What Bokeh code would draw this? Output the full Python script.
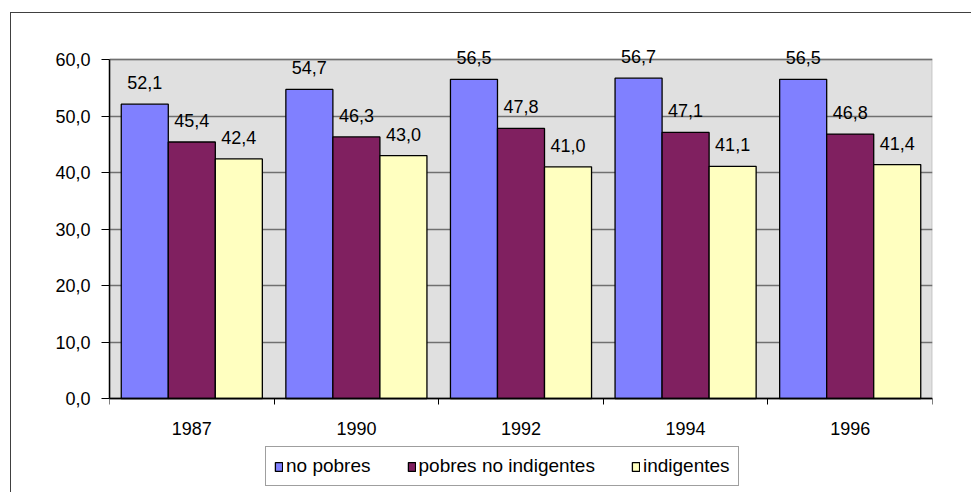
from bokeh.plotting import figure
from bokeh.models import (ColumnDataSource, Range1d, FixedTicker, LabelSet,
                          Legend, LegendItem, BoxAnnotation)
from bokeh.core.properties import value
from bokeh.transform import dodge
from bokeh.embed import file_html
from bokeh.resources import INLINE

years = ["1987", "1990", "1992", "1994", "1996"]
no_pobres = [52.1, 54.7, 56.5, 56.7, 56.5]
pobres_no_indigentes = [45.4, 46.3, 47.8, 47.1, 46.8]
indigentes = [42.4, 43.0, 41.0, 41.1, 41.4]
series_names = ["no pobres", "pobres no indigentes", "indigentes"]
colors = ["#8080FF", "#802060", "#FFFFC0"]
y_ticks = [0, 10, 20, 30, 40, 50, 60]

FONT = "Liberation Sans"
FS = "18px"
pos = [i + 0.5 for i in range(len(years))]

def fmt(v):
    return f"{v:.1f}".replace(".", ",")

# layout geometry (pixels)
W, H = 961, 480
frame_top_px, frame_bottom_px = 27, H          # canvas coords
y60_px, y0_px = 46, 385                        # where 60 and 0 sit on the canvas
ppu = (y0_px - y60_px) / 60.0
y_top = 60 + (y60_px - frame_top_px) / ppu
y_bot = -(frame_bottom_px - y0_px) / ppu

p = figure(width=W, height=H, output_backend="svg", toolbar_location=None,
           x_range=Range1d(0, len(years)), y_range=Range1d(y_bot, y_top),
           min_border_left=98, min_border_right=40, min_border_top=frame_top_px,
           min_border_bottom=0)
p.styles = {"border-left": "1px solid #404040", "border-top": "1px solid #404040",
            "margin-left": "10px", "margin-top": "12px"}

p.background_fill_color = "white"
p.border_fill_color = "white"
p.outline_line_color = None

plot_area = BoxAnnotation(bottom=0, top=60, fill_color="#E0E0E0", fill_alpha=1,
                          line_color="#808080", line_width=2, level="image")
p.add_layout(plot_area)

bw = 1 / 3.5
offsets = [-bw, 0, bw]
data_series = [no_pobres, pobres_no_indigentes, indigentes]
renderers = []
for name, vals, col, off in zip(series_names, data_series, colors, offsets):
    src = ColumnDataSource(dict(x=pos, top=vals, lab=[fmt(v) for v in vals]))
    r = p.vbar(x=dodge("x", off), top="top", width=bw, bottom=0, source=src,
               fill_color=col, line_color="black", line_width=1.3)
    renderers.append(r)
    ls = LabelSet(x=dodge("x", off), y="top", text="lab", source=src,
                  text_align="center", text_baseline="alphabetic", y_offset=15,
                  text_font=value(FONT), text_font_size=FS, text_color="black")
    p.add_layout(ls)

# x axis, fixed at y = 0
p.xaxis.fixed_location = 0
p.xaxis.ticker = FixedTicker(ticks=pos, minor_ticks=list(range(len(years) + 1)))
p.xaxis.major_label_overrides = {x: y for x, y in zip(pos, years)}
p.xaxis.major_tick_out = 0
p.xaxis.major_tick_in = 0
p.xaxis.minor_tick_out = 6
p.xaxis.minor_tick_in = 0
p.xaxis.minor_tick_line_color = "black"
p.xaxis.axis_line_color = "black"
p.xaxis.axis_line_width = 1.5
p.xaxis.major_label_standoff = 17
p.xaxis.major_label_text_font = FONT
p.xaxis.major_label_text_font_size = FS
p.xaxis.major_label_text_color = "black"
p.xgrid.grid_line_color = None

# y axis
p.yaxis.bounds = (0, 60)
p.yaxis.ticker = FixedTicker(ticks=y_ticks)
p.yaxis.major_label_overrides = {t: fmt(t) for t in y_ticks}
p.yaxis.major_tick_out = 8
p.yaxis.major_tick_in = 0
p.yaxis.minor_tick_line_color = None
p.yaxis.axis_line_color = "black"
p.yaxis.axis_line_width = 1.5
p.yaxis.major_tick_line_color = "black"
p.yaxis.major_label_standoff = 11
p.yaxis.major_label_text_font = FONT
p.yaxis.major_label_text_font_size = FS
p.yaxis.major_label_text_color = "black"
p.ygrid.grid_line_color = "#707070"
p.ygrid.grid_line_width = 1.5

legend = Legend(items=[LegendItem(label=n, renderers=[r]) for n, r in zip(series_names, renderers)],
                orientation="horizontal", location=(156, 7),
                label_text_font=FONT, label_text_font_size="19px", label_text_color="black",
                glyph_width=9, glyph_height=11, label_standoff=3, spacing=36,
                padding=8, margin=0, border_line_color="#404040", border_line_width=1,
                background_fill_color="white", background_fill_alpha=1)
p.add_layout(legend)

open("out.html", "w").write(file_html(p, INLINE))
